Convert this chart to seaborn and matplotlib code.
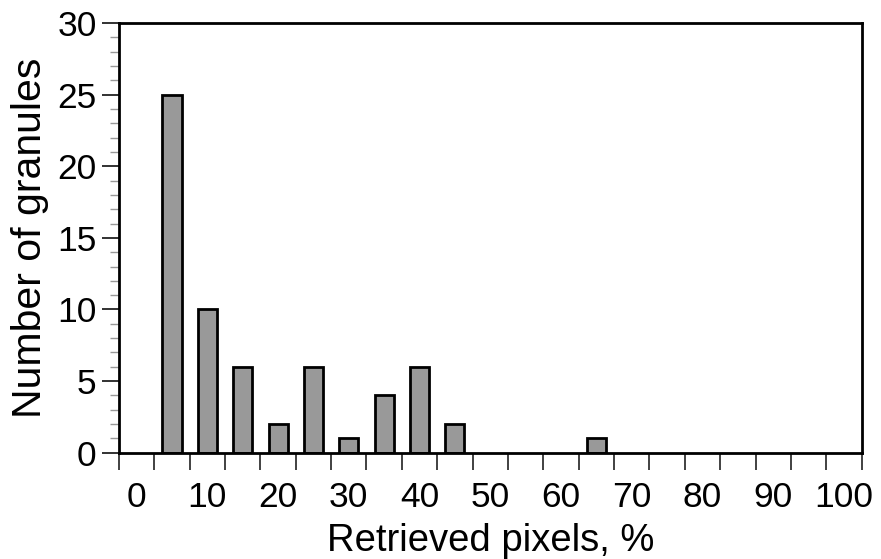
import matplotlib
matplotlib.use("Agg")
import matplotlib.pyplot as plt
import seaborn as sns
import numpy as np
import pandas as pd
from matplotlib.ticker import MultipleLocator, FixedLocator

# data
bin_centers = [5, 10, 15, 20, 25, 30, 35, 40, 45, 65]
counts = [25, 10, 6, 2, 6, 1, 4, 6, 2, 1]
x_tick_labels = [0, 10, 20, 30, 40, 50, 60, 70, 80, 90, 100]
y_tick_labels = [0, 5, 10, 15, 20, 25, 30]

sns.set_style("ticks")
plt.rcParams['font.family'] = ['Liberation Sans', 'DejaVu Sans']
plt.rcParams['text.color'] = 'black'
plt.rcParams['axes.labelcolor'] = 'black'
plt.rcParams['xtick.color'] = 'black'
plt.rcParams['ytick.color'] = 'black'

fig = plt.figure(figsize=(8.81, 5.59), dpi=100)
ax = fig.add_axes([0.135, 0.190, 0.843, 0.769])

df = pd.DataFrame({"x": bin_centers, "y": counts})
sns.barplot(data=df, x="x", y="y", native_scale=True, width=0.54,
            color="#999999", saturation=1, edgecolor="black", linewidth=2,
            ax=ax)

ax.set_xlim(-2.5, 102.5)
ax.set_ylim(0, 30)

# x: labels without marks at decades, marks at bin edges
ax.xaxis.set_major_locator(FixedLocator(x_tick_labels))
ax.set_xticklabels([str(v) for v in x_tick_labels])
ax.xaxis.set_minor_locator(FixedLocator(np.arange(-2.5, 103, 5)))
ax.tick_params(axis="x", which="major", length=0, pad=20, labelsize=25.5,
               labelcolor="black")
ax.tick_params(axis="x", which="minor", length=12, width=1.3, direction="out",
               color="#333333")

ax.yaxis.set_major_locator(FixedLocator(y_tick_labels))
ax.yaxis.set_minor_locator(MultipleLocator(1))
ax.tick_params(axis="y", which="major", length=12, width=1.3, pad=4,
               labelsize=25.5, labelcolor="black", color="#222222")
ax.tick_params(axis="y", which="minor", length=6.5, width=1.0, color="#999999")

for s in ax.spines.values():
    s.set_visible(True)
    s.set_linewidth(2)
    s.set_color("black")

ax.set_xlabel("Retrieved pixels, %", fontsize=27.5, labelpad=7, color="black")
ax.set_ylabel("Number of granules", fontsize=29.5, labelpad=6, color="black")

fig.savefig("out.png", dpi=100)
